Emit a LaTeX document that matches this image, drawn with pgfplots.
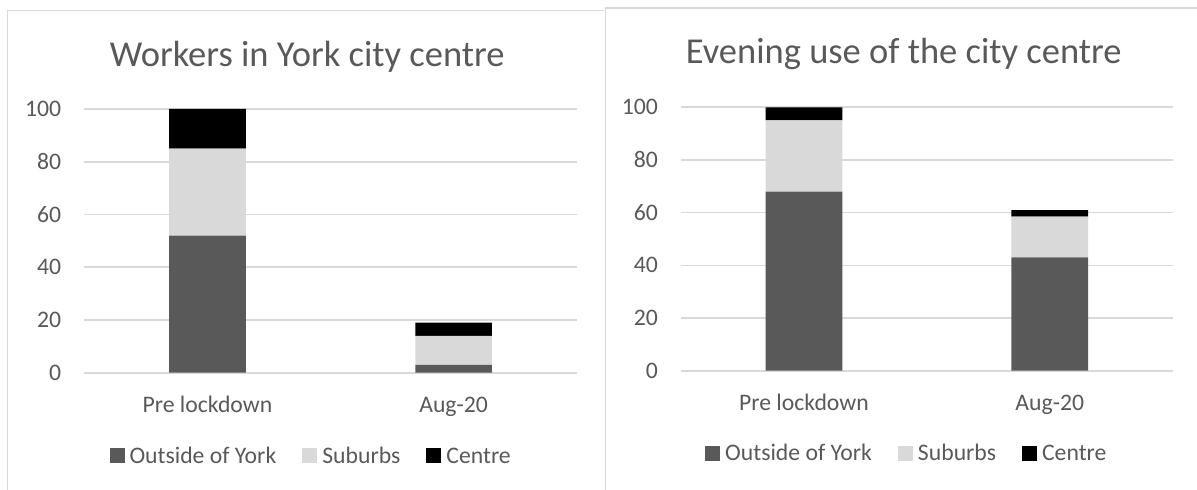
\documentclass[border=0pt]{standalone}
\usepackage{fontspec}
\setmainfont{Carlito}
\usepackage{pgfplots}
\pgfplotsset{compat=1.18}
\definecolor{dk}{HTML}{595959}
\definecolor{lt}{HTML}{D9D9D9}
\definecolor{txt}{HTML}{595959}
\definecolor{gridc}{HTML}{D9D9D9}
\newcommand\smallf{\fontsize{23.7bp}{28bp}\selectfont}
\newcommand\titlef{\fontsize{36.5bp}{44bp}\selectfont}
\pgfplotsset{
  panel/.style={
    scale only axis,
    ybar stacked, bar width=76.7bp,
    xmin=-0.5, xmax=1.5, ymin=0, ymax=100, enlargelimits=false,
    xtick={0,1}, xticklabels={Pre lockdown, Aug-20},
    ytick={0,20,40,60,80,100},
    axis line style={draw=none}, major tick length=0pt,
    ymajorgrids, major grid style={draw=gridc, line width=1.6bp},
    /pgf/number format/assume math mode=true,
    tick label style={font=\smallf, text=txt},
    yticklabel style={anchor=east, inner sep=0pt, xshift=-23bp},
    xticklabel style={anchor=base, inner sep=0pt, yshift=-39.5bp},
    legend columns=3,
    legend image code/.code={\path[##1,draw=none] (0bp,0bp) rectangle (15bp,15bp);},
    legend style={draw=none, fill=none, inner sep=0pt, font=\smallf, text=txt,
      anchor=south west, nodes={inner sep=0pt}, cells={anchor=base west},
      /tikz/every odd column/.style={column sep=5bp},
      /tikz/every even column/.style={column sep=26bp}},
    every axis title shift=0pt,
    title style={font=\titlef, text=txt, anchor=base, inner sep=0pt},
  }
}
\begin{document}
\begin{tikzpicture}
\useasboundingbox (0bp,0bp) rectangle (1197bp,490bp);
\draw[gridc, line width=1.6bp] (7.3bp,0bp) -- (7.3bp,479.3bp) -- (604bp,479.3bp);
\draw[gridc, line width=1.6bp] (605.5bp,0bp) -- (605.5bp,481.7bp) -- (1197bp,481.7bp);
\begin{axis}[panel, at={(84.3bp,117.3bp)}, anchor=south west,
  width=492.4bp, height=263.7bp,
  title={Workers in York city centre}, title style={at={(0.4527,1.1604)}},
  legend style={at={(0.0508,-0.35)}}]
\addplot[fill=dk, draw=none] coordinates {(0,52) (1,3)};
\addplot[fill=lt, draw=none] coordinates {(0,33) (1,11)};
\addplot[fill=black, draw=none] coordinates {(0,15) (1,5)};
\legend{Outside of York, Suburbs, Centre}
\end{axis}
\begin{axis}[panel, at={(681bp,119.3bp)}, anchor=south west,
  width=491.7bp, height=263.4bp,
  title={Evening use of the city centre}, title style={at={(0.4529,1.1644)}},
  legend style={at={(0.0488,-0.3485)}}]
\addplot[fill=dk, draw=none] coordinates {(0,68) (1,43)};
\addplot[fill=lt, draw=none] coordinates {(0,27) (1,15.5)};
\addplot[fill=black, draw=none] coordinates {(0,5) (1,2.5)};
\legend{Outside of York, Suburbs, Centre}
\end{axis}
\end{tikzpicture}
\end{document}
